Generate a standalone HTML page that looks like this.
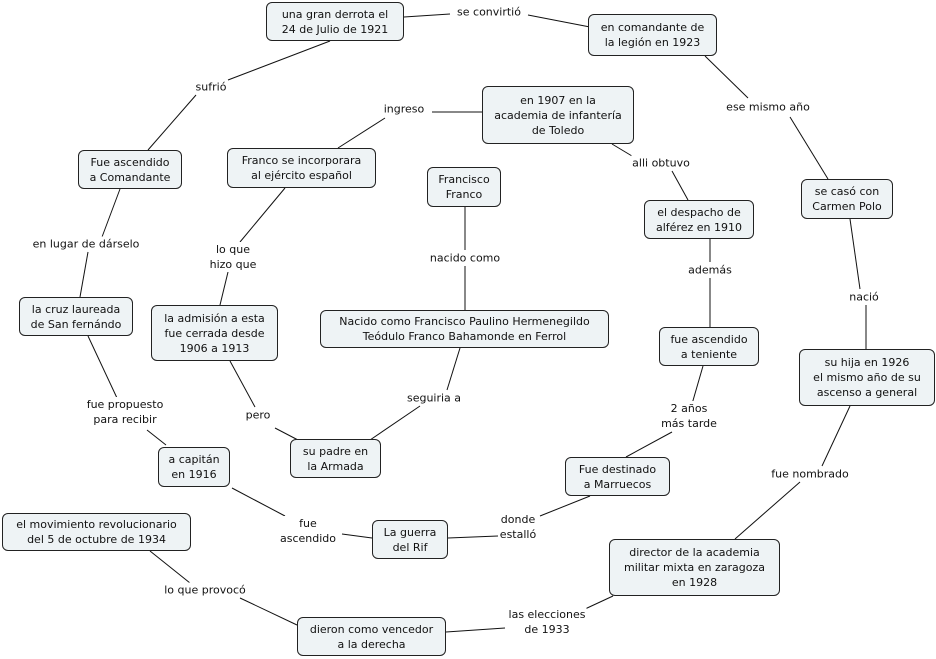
<!DOCTYPE html>
<html><head><meta charset="utf-8"><style>
body{margin:0;width:936px;height:659px;background:#fff;position:relative;overflow:hidden;font-family:"DejaVu Sans","Liberation Sans",sans-serif;font-size:11px;color:#111}
.n{position:absolute;box-sizing:border-box;border:1px solid #222;border-radius:6px;background:#eef3f5;display:flex;align-items:center;justify-content:center;text-align:center;line-height:15px;white-space:nowrap}
.l{position:absolute;transform:translate(-50%,-50%);text-align:center;line-height:15px;white-space:nowrap;background:#fff;padding:0 1px}
svg{position:absolute;left:0;top:0}
</style></head><body>
<svg width="936" height="659" stroke="#111" stroke-width="1">
<line x1="404" y1="17" x2="450" y2="14"/><line x1="528" y1="15" x2="590" y2="27"/>
<line x1="330" y1="41" x2="228" y2="80"/><line x1="196" y1="95" x2="148" y2="150"/>
<line x1="705" y1="56" x2="748" y2="98"/><line x1="790" y1="117" x2="828" y2="179"/>
<line x1="482" y1="112" x2="432" y2="112"/><line x1="385" y1="118" x2="338" y2="148"/>
<line x1="612" y1="144" x2="632" y2="156"/><line x1="672" y1="171" x2="688" y2="200"/>
<line x1="285" y1="188" x2="240" y2="242"/><line x1="228" y1="272" x2="220" y2="305"/>
<line x1="120" y1="189" x2="102" y2="237"/><line x1="88" y1="252" x2="80" y2="297"/>
<line x1="465" y1="206" x2="465" y2="250"/><line x1="465" y1="266" x2="465" y2="310"/>
<line x1="710" y1="239" x2="710" y2="262"/><line x1="710" y1="278" x2="710" y2="327"/>
<line x1="850" y1="219" x2="860" y2="289"/><line x1="866" y1="305" x2="866" y2="349"/>
<line x1="88" y1="336" x2="117" y2="398"/><line x1="147" y1="430" x2="166" y2="445"/>
<line x1="230" y1="361" x2="255" y2="407"/><line x1="275" y1="428" x2="298" y2="440"/>
<line x1="460" y1="348" x2="447" y2="390"/><line x1="420" y1="406" x2="370" y2="440"/>
<line x1="703" y1="366" x2="692" y2="404"/><line x1="672" y1="432" x2="626" y2="457"/>
<line x1="850" y1="406" x2="822" y2="466"/><line x1="800" y1="482" x2="735" y2="539"/>
<line x1="232" y1="488" x2="285" y2="516"/><line x1="342" y1="534" x2="372" y2="538"/>
<line x1="590" y1="496" x2="540" y2="516"/><line x1="498" y1="536" x2="448" y2="538"/>
<line x1="150" y1="551" x2="190" y2="583"/><line x1="240" y1="598" x2="297" y2="625"/>
<line x1="613" y1="596" x2="585" y2="609"/><line x1="505" y1="628" x2="446" y2="632"/>
</svg>
<div class="n" style="left:266px;top:2px;width:138px;height:39px">una gran derrota el<br>24 de Julio de 1921</div>
<div class="n" style="left:588px;top:14px;width:129px;height:42px">en comandante de<br>la legión en 1923</div>
<div class="n" style="left:482px;top:86px;width:152px;height:58px">en 1907 en la<br>academia de infantería<br>de Toledo</div>
<div class="n" style="left:227px;top:148px;width:149px;height:40px">Franco se incorporara<br>al ejército español</div>
<div class="n" style="left:78px;top:150px;width:104px;height:39px">Fue ascendido<br>a Comandante</div>
<div class="n" style="left:427px;top:167px;width:74px;height:40px">Francisco<br>Franco</div>
<div class="n" style="left:644px;top:200px;width:110px;height:39px">el despacho de<br>alférez en 1910</div>
<div class="n" style="left:801px;top:179px;width:92px;height:40px">se casó con<br>Carmen Polo</div>
<div class="n" style="left:19px;top:297px;width:114px;height:39px">la cruz laureada<br>de San fernándo</div>
<div class="n" style="left:151px;top:305px;width:127px;height:56px">la admisión a esta<br>fue cerrada desde<br>1906 a 1913</div>
<div class="n" style="left:320px;top:310px;width:289px;height:38px">Nacido como Francisco Paulino Hermenegildo<br>Teódulo Franco Bahamonde en Ferrol</div>
<div class="n" style="left:659px;top:327px;width:100px;height:39px">fue ascendido<br>a teniente</div>
<div class="n" style="left:799px;top:349px;width:136px;height:57px">su hija en 1926<br>el mismo año de su<br>ascenso a general</div>
<div class="n" style="left:290px;top:439px;width:91px;height:39px">su padre en<br>la Armada</div>
<div class="n" style="left:158px;top:447px;width:72px;height:40px">a capitán<br>en 1916</div>
<div class="n" style="left:565px;top:457px;width:105px;height:39px">Fue destinado<br>a Marruecos</div>
<div class="n" style="left:2px;top:513px;width:189px;height:38px">el movimiento revolucionario<br>del 5 de octubre de 1934</div>
<div class="n" style="left:372px;top:520px;width:76px;height:39px">La guerra<br>del Rif</div>
<div class="n" style="left:609px;top:539px;width:171px;height:57px">director de la academia<br>militar mixta en zaragoza<br>en 1928</div>
<div class="n" style="left:297px;top:617px;width:149px;height:39px">dieron como vencedor<br>a la derecha</div>
<div class="l" style="left:489px;top:12px">se convirtió</div>
<div class="l" style="left:211px;top:87px">sufrió</div>
<div class="l" style="left:404px;top:109px">ingreso</div>
<div class="l" style="left:768px;top:107px">ese mismo año</div>
<div class="l" style="left:661px;top:163px">alli obtuvo</div>
<div class="l" style="left:86px;top:244px">en lugar de dárselo</div>
<div class="l" style="left:233px;top:257px">lo que<br>hizo que</div>
<div class="l" style="left:465px;top:258px">nacido como</div>
<div class="l" style="left:710px;top:270px">además</div>
<div class="l" style="left:864px;top:297px">nació</div>
<div class="l" style="left:125px;top:412px">fue propuesto<br>para recibir</div>
<div class="l" style="left:258px;top:415px">pero</div>
<div class="l" style="left:434px;top:398px">seguiria a</div>
<div class="l" style="left:689px;top:416px">2 años<br>más tarde</div>
<div class="l" style="left:810px;top:474px">fue nombrado</div>
<div class="l" style="left:308px;top:531px">fue<br>ascendido</div>
<div class="l" style="left:518px;top:527px">donde<br>estalló</div>
<div class="l" style="left:205px;top:590px">lo que provocó</div>
<div class="l" style="left:547px;top:622px">las elecciones<br>de 1933</div>
</body></html>
